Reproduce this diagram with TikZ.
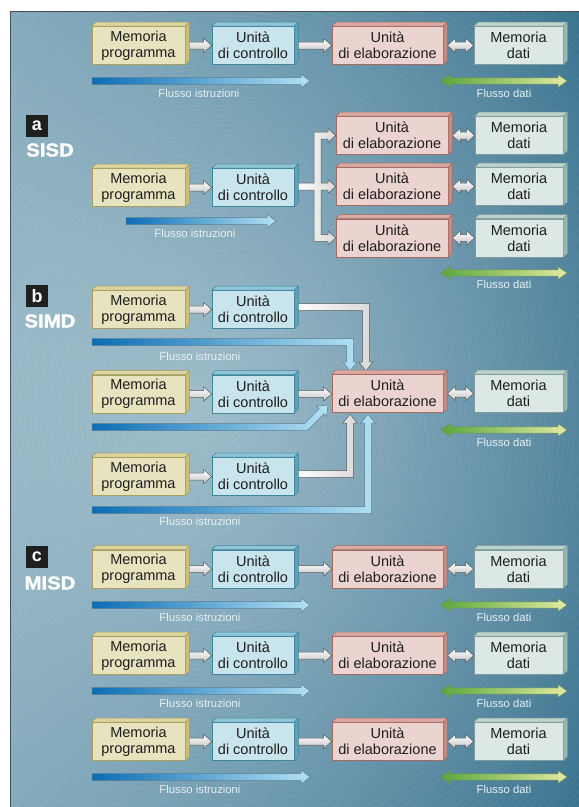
\documentclass[tikz,border=0pt]{standalone}
\usepackage{fontspec}
\setmainfont{Liberation Sans}
\newfontfamily\heavyfont[FakeBold=1.6]{Liberation Sans Bold}
\usetikzlibrary{calc,fadings}
\definecolor{bgL}{HTML}{739EB2}
\definecolor{bgR}{HTML}{2C6987}
\definecolor{bgGlow}{HTML}{D6E4EA}
\definecolor{mpF}{HTML}{E6E3BE}
\definecolor{mpT}{HTML}{DCD5A0}
\definecolor{mpS}{HTML}{C9BF7C}
\definecolor{mpE}{HTML}{A89E5E}
\definecolor{cuF}{HTML}{C8E4EC}
\definecolor{cuT}{HTML}{8EC6D6}
\definecolor{cuS}{HTML}{5AA3BB}
\definecolor{cuE}{HTML}{3F859D}
\definecolor{elF}{HTML}{EBD3D0}
\definecolor{elT}{HTML}{D9AAA2}
\definecolor{elS}{HTML}{C68A82}
\definecolor{elE}{HTML}{A46A62}
\definecolor{mdF}{HTML}{DCE8E5}
\definecolor{mdT}{HTML}{BCD2CD}
\definecolor{mdS}{HTML}{9AB6AF}
\definecolor{mdE}{HTML}{7F9D96}
\definecolor{txt}{HTML}{1E1E1E}
\definecolor{flowtxtc}{HTML}{E8F0F4}
\definecolor{blueL}{HTML}{0B6DB5}
\definecolor{blueR}{HTML}{B3E0F2}
\definecolor{blueE}{HTML}{5A7F95}
\definecolor{greenL}{HTML}{5AA83C}
\definecolor{greenR}{HTML}{E2EAA2}
\definecolor{greenE}{HTML}{6F8F55}
\tikzfading[name=glow, inner color=transparent!45, outer color=transparent!100]
\pgfdeclarelayer{back}
\pgfdeclarelayer{arrows}
\pgfsetlayers{back,arrows,main}
\tikzset{
  cube/.style={draw, line width=0.6pt, inner sep=0pt, minimum height=38pt, align=center, text=txt, font=\fontsize{14.5}{16}\selectfont},
  grayarr/.style={top color=white, bottom color=gray!45, draw=gray!70!black, line width=0.5pt, line join=miter},
  bentarr/.style={left color=white, right color=gray!30, draw=gray!70!black, line width=0.5pt},
  bluearr/.style={left color=blueL, right color=blueR, draw=blueE, line width=0.5pt},
  greenarr/.style={left color=greenL, right color=greenR, draw=greenE, line width=0.5pt},
  flowtxt/.style={text=flowtxtc, font=\fontsize{11.3}{13}\selectfont, inner sep=0pt},
  letterbox/.style={fill=black!88, text=white, minimum size=22pt, inner sep=0pt, font=\bfseries\fontsize{18}{18}\selectfont},
  kind/.style={text=white, font=\heavyfont\fontsize{18.5}{19}\selectfont, inner sep=0pt}
}
\newcommand\cube[6]{%
  \node[cube, fill=#5F, draw=#5E, minimum width=#4pt] (#1) at (#2,#3) {#6};
  \filldraw[fill=#5T, draw=#5E, line width=0.5pt, line join=round] (#1.north west) -- ++(4pt,4pt) -- ($(#1.north east)+(4pt,4pt)$) -- (#1.north east) -- cycle;
  \filldraw[fill=#5S, draw=#5E, line width=0.5pt, line join=round] (#1.north east) -- ++(4pt,4pt) -- ($(#1.south east)+(4pt,4pt)$) -- (#1.south east) -- cycle;
}
\newcommand\rarr[2]{\begin{pgfonlayer}{arrows}\path[grayarr] let \p1=(#1.east), \p2=(#2.west) in
  (\x1,\y1+3.5pt) -- (\x2-8pt,\y1+3.5pt) -- (\x2-8pt,\y1+7pt) -- (\x2,\y1) -- (\x2-8pt,\y1-7pt) -- (\x2-8pt,\y1-3.5pt) -- (\x1,\y1-3.5pt) -- cycle;\end{pgfonlayer}}
\newcommand\darr[2]{\begin{pgfonlayer}{arrows}\path[grayarr] let \p1=(#1.east), \p2=(#2.west) in
  (\x1+4pt,\y1) -- (\x1+12pt,\y1+7pt) -- (\x1+12pt,\y1+3.5pt) -- (\x2-8pt,\y1+3.5pt) -- (\x2-8pt,\y1+7pt) -- (\x2,\y1) -- (\x2-8pt,\y1-7pt) -- (\x2-8pt,\y1-3.5pt) -- (\x1+12pt,\y1-3.5pt) -- (\x1+12pt,\y1-7pt) -- cycle;\end{pgfonlayer}}
\newcommand\bbar[3]{\begin{pgfonlayer}{arrows}\path[bluearr] (#1,#3-3.5) -- (#2-9,#3-3.5) -- (#2-9,#3-7) -- (#2,#3) -- (#2-9,#3+7) -- (#2-9,#3+3.5) -- (#1,#3+3.5) -- cycle;\end{pgfonlayer}}
\newcommand\gbar[3]{\begin{pgfonlayer}{arrows}\path[greenarr] (#1,#3) -- (#1+9,#3-6.5) -- (#1+9,#3-3.2) -- (#2-9,#3-3.2) -- (#2-9,#3-6.5) -- (#2,#3) -- (#2-9,#3+6.5) -- (#2-9,#3+3.2) -- (#1+9,#3+3.2) -- (#1+9,#3+6.5) -- cycle;\end{pgfonlayer}}
\begin{document}
\begin{tikzpicture}[x=1pt,y=-1pt]
\useasboundingbox (0,0) rectangle (579,807);
\begin{pgfonlayer}{back}
  \fill[white] (0,0) rectangle (579,807);
  \shade[left color=bgL, right color=bgR] (10,11) rectangle (579,807);
  \begin{scope}
    \clip (10,11) rectangle (579,807);
    \fill[bgGlow, path fading=glow] (210,410) circle (640pt);
    \foreach \r in {5,10,...,700} \draw[white, opacity=0.07, line width=0.5pt] (210,410) circle (\r pt);
  \end{scope}
  \draw[black!70, line width=0.8pt] (579,11) -- (10,11) -- (10,807);
\end{pgfonlayer}

% ---------- row 1 ----------
\cube{mp1}{138.5}{45.5}{93}{mp}{Memoria\\programma}
\cube{cu1}{253}{45.5}{82}{cu}{Unità\\di controllo}
\cube{el1}{387.5}{45.5}{111}{el}{Unità\\di elaborazione}
\cube{md1}{518.5}{45.5}{89}{md}{Memoria\\dati}
\rarr{mp1}{cu1}
\rarr{cu1}{el1}
\darr{el1}{md1}
\bbar{92}{310}{81}
\gbar{441}{567}{81}
\node[flowtxt] (fi1) at (199,93) {Flusso istruzioni};
\node[flowtxt] (fd1) at (504,93) {Flusso dati};

% ---------- a SISD ----------
\node[letterbox] (la) at (37,126) {a};
\node[kind] (ka) at (50,150) {\scalebox{1.1}[1]{SISD}};
\cube{mp2}{138.5}{187.5}{93}{mp}{Memoria\\programma}
\cube{cu2}{253}{187.5}{82}{cu}{Unità\\di controllo}
\cube{el2a}{392}{135.5}{112}{el}{Unità\\di elaborazione}
\cube{el2b}{392}{186.5}{112}{el}{Unità\\di elaborazione}
\cube{el2c}{392}{238}{112}{el}{Unità\\di elaborazione}
\cube{md2a}{519}{135.5}{88}{md}{Memoria\\dati}
\cube{md2b}{519}{186.5}{88}{md}{Memoria\\dati}
\cube{md2c}{519}{238}{88}{md}{Memoria\\dati}
\rarr{mp2}{cu2}
\begin{pgfonlayer}{arrows}
\path[bentarr] (cu2.east |- 0,183) -- (314,183) -- (314,132) -- (328,132) -- (328,128.5) -- (el2a.west) -- (328,142.5) -- (328,139) -- (321,139) -- (321,183) -- (328,183) -- (328,179.5) -- (el2b.west) -- (328,193.5) -- (328,190) -- (321,190) -- (321,234.5) -- (328,234.5) -- (328,231) -- (el2c.west) -- (328,245) -- (328,241.5) -- (314,241.5) -- (314,190) -- (cu2.east |- 0,190) -- cycle;
\end{pgfonlayer}
\darr{el2a}{md2a}
\darr{el2b}{md2b}
\darr{el2c}{md2c}
\bbar{126}{276}{221}
\gbar{441}{567}{273}
\node[flowtxt] (fi2) at (195,233) {Flusso istruzioni};
\node[flowtxt] (fd2) at (504,284) {Flusso dati};

% ---------- b SIMD ----------
\node[letterbox] (lb) at (37,296) {b};
\node[kind] (kb) at (50,321) {\scalebox{1.1}[1]{SIMD}};
\cube{mp3a}{138.5}{309.5}{93}{mp}{Memoria\\programma}
\cube{cu3a}{253}{309.5}{82}{cu}{Unità\\di controllo}
\cube{mp3b}{138.5}{394}{93}{mp}{Memoria\\programma}
\cube{cu3b}{253}{394}{82}{cu}{Unità\\di controllo}
\cube{mp3c}{138.5}{476.5}{93}{mp}{Memoria\\programma}
\cube{cu3c}{253}{476.5}{82}{cu}{Unità\\di controllo}
\cube{el3}{387.5}{393.5}{111}{el}{Unità\\di elaborazione}
\cube{md3}{518.5}{393.5}{89}{md}{Memoria\\dati}
\rarr{mp3a}{cu3a}
\rarr{mp3b}{cu3b}
\rarr{mp3c}{cu3c}
\rarr{cu3b}{el3}
\darr{el3}{md3}
\begin{pgfonlayer}{arrows}
\path[bentarr] (cu3a.east |- 0,303.5) -- (369.5,303.5) -- (369.5,362) -- (373,362) -- (366,371) -- (359,362) -- (362.5,362) -- (362.5,310.5) -- (cu3a.east |- 0,310.5) -- cycle;
\path[bentarr] (cu3c.east |- 0,470.5) -- (346.5,470.5) -- (346.5,423) -- (343,423) -- (350,414) -- (357,423) -- (353.5,423) -- (353.5,477.5) -- (cu3c.east |- 0,477.5) -- cycle;
\path[bluearr] (92,338.5) -- (353.5,338.5) -- (353.5,362) -- (357,362) -- (350,371) -- (343,362) -- (346.5,362) -- (346.5,345.5) -- (92,345.5) -- cycle;
\path[bluearr] (92,423.5) -- (304.6,423.5) -- (319.2,408.9) -- (316.7,406.4) -- (328,405) -- (326.6,416.3) -- (324.1,413.8) -- (307.4,430.5) -- (92,430.5) -- cycle;
\path[bluearr] (92,506.5) -- (364.5,506.5) -- (364.5,423) -- (361,423) -- (368,414) -- (375,423) -- (371.5,423) -- (371.5,513.5) -- (92,513.5) -- cycle;
\end{pgfonlayer}
\gbar{441}{567}{430}
\node[flowtxt] (fi3a) at (200,356) {Flusso istruzioni};
\node[flowtxt] (fi3c) at (200,521) {Flusso istruzioni};
\node[flowtxt] (fd3) at (504,442) {Flusso dati};

% ---------- c MISD ----------
\node[letterbox] (lc) at (37,556.5) {c};
\node[kind] (kc) at (50,583) {\scalebox{1.1}[1]{MISD}};
\foreach \i/\y/\b in {a/569/605, b/655.5/691, c/741.5/777}{
  \cube{mp4\i}{138.5}{\y}{93}{mp}{Memoria\\programma}
  \cube{cu4\i}{253}{\y}{82}{cu}{Unità\\di controllo}
  \cube{el4\i}{387.5}{\y}{111}{el}{Unità\\di elaborazione}
  \cube{md4\i}{518.5}{\y}{89}{md}{Memoria\\dati}
  \rarr{mp4\i}{cu4\i}
  \rarr{cu4\i}{el4\i}
  \darr{el4\i}{md4\i}
  \bbar{92}{310}{\b}
  \gbar{441}{567}{\b}
  \node[flowtxt] (fi4\i) at (200,\b+12) {Flusso istruzioni};
  \node[flowtxt] (fd4\i) at (504,\b+12) {Flusso dati};
}
\end{tikzpicture}
\end{document}
